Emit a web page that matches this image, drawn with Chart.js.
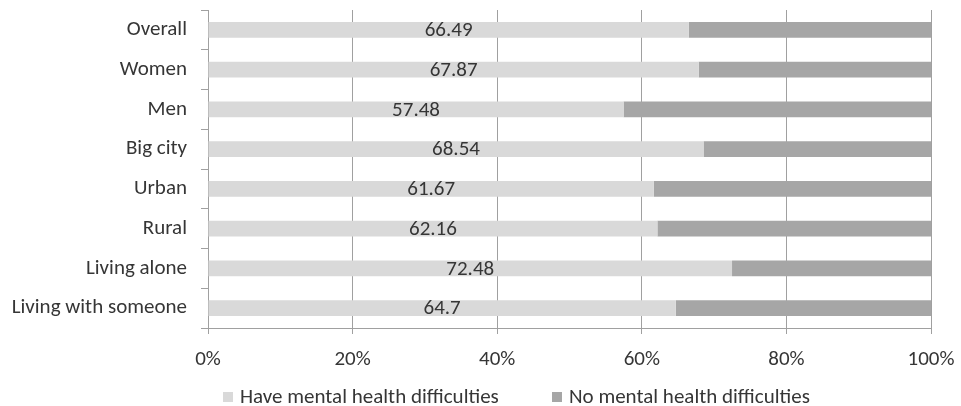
<!DOCTYPE html>
<html>
<head>
<meta charset="utf-8">
<script src="https://cdn.jsdelivr.net/npm/chart.js@4"></script>
<style>
  body { margin: 0; background: #fff; }
</style>
</head>
<body>
<canvas id="myChart" width="961" height="406"></canvas>
<script>
var categories = ['Overall', 'Women', 'Men', 'Big city', 'Urban', 'Rural', 'Living alone', 'Living with someone'];
var haveDifficulties = [66.49, 67.87, 57.48, 68.54, 61.67, 62.16, 72.48, 64.7];
var noDifficulties = [33.51, 32.13, 42.52, 31.46, 38.33, 37.84, 27.52, 35.3];
var xTicks = [0, 20, 40, 60, 80, 100];

var textColor = '#363636';
var lineColor = '#a0a0a0';
var fontFamily = 'Carlito, Lato, sans-serif';
var fontSize = 21;

Chart.defaults.font.family = fontFamily;
Chart.defaults.font.size = fontSize;
Chart.defaults.color = textColor;

// value labels in the middle of the first series
var valueLabels = {
    id: 'valueLabels',
    afterDatasetsDraw: function (chart) {
        var ctx = chart.ctx;
        var meta = chart.getDatasetMeta(0);
        ctx.save();
        ctx.font = fontSize + 'px ' + fontFamily;
        ctx.fillStyle = textColor;
        ctx.textAlign = 'center';
        ctx.textBaseline = 'middle';
        meta.data.forEach(function (bar, i) {
            ctx.fillText(String(haveDifficulties[i]), (bar.x + bar.base) / 2, bar.y + 1);
        });
        ctx.restore();
    }
};

// legend under the axis
var bottomLegend = {
    id: 'bottomLegend',
    afterDraw: function (chart, args, opts) {
        var ctx = chart.ctx;
        ctx.save();
        ctx.font = fontSize + 'px ' + fontFamily;
        ctx.textBaseline = 'middle';
        chart.data.datasets.forEach(function (ds, i) {
            var x = opts.x[i];
            ctx.fillStyle = ds.backgroundColor;
            ctx.fillRect(x, opts.y - 5, 10, 10);
            ctx.fillStyle = textColor;
            ctx.fillText(ds.label, x + 17, opts.y + 1);
        });
        ctx.restore();
    }
};

new Chart(document.getElementById('myChart'), {
    type: 'bar',
    data: {
        labels: categories,
        datasets: [{
            label: 'Have mental health difficulties',
            data: haveDifficulties,
            backgroundColor: '#d9d9d9',
            barPercentage: 0.39,
            categoryPercentage: 1
        }, {
            label: 'No mental health difficulties',
            data: noDifficulties,
            backgroundColor: '#a6a6a6',
            barPercentage: 0.39,
            categoryPercentage: 1
        }]
    },
    options: {
        indexAxis: 'y',
        responsive: false,
        animation: false,
        layout: {
            padding: { top: 10, right: 30, bottom: 38, left: 0 }
        },
        scales: {
            x: {
                stacked: true,
                min: 0,
                max: 100,
                afterBuildTicks: function (scale) {
                    scale.ticks = xTicks.map(function (v) { return { value: v }; });
                },
                afterFit: function (scale) {
                    scale.height = 40;
                    scale.paddingLeft = 0;
                    scale.paddingRight = 0;
                },
                ticks: {
                    padding: 13,
                    callback: function (v) { return v + '%'; }
                },
                grid: { color: lineColor, tickLength: 6 },
                border: { color: lineColor }
            },
            y: {
                stacked: true,
                afterFit: function (scale) {
                    scale.width = 208;
                    scale.paddingTop = 0;
                    scale.paddingBottom = 0;
                },
                ticks: { padding: 14 },
                grid: { color: lineColor, drawOnChartArea: false, tickLength: 7, offset: true },
                border: { color: lineColor }
            }
        },
        plugins: {
            legend: { display: false },
            tooltip: { enabled: false },
            bottomLegend: { x: [223, 552], y: 397 }
        }
    },
    plugins: [valueLabels, bottomLegend]
});
</script>
</body>
</html>
